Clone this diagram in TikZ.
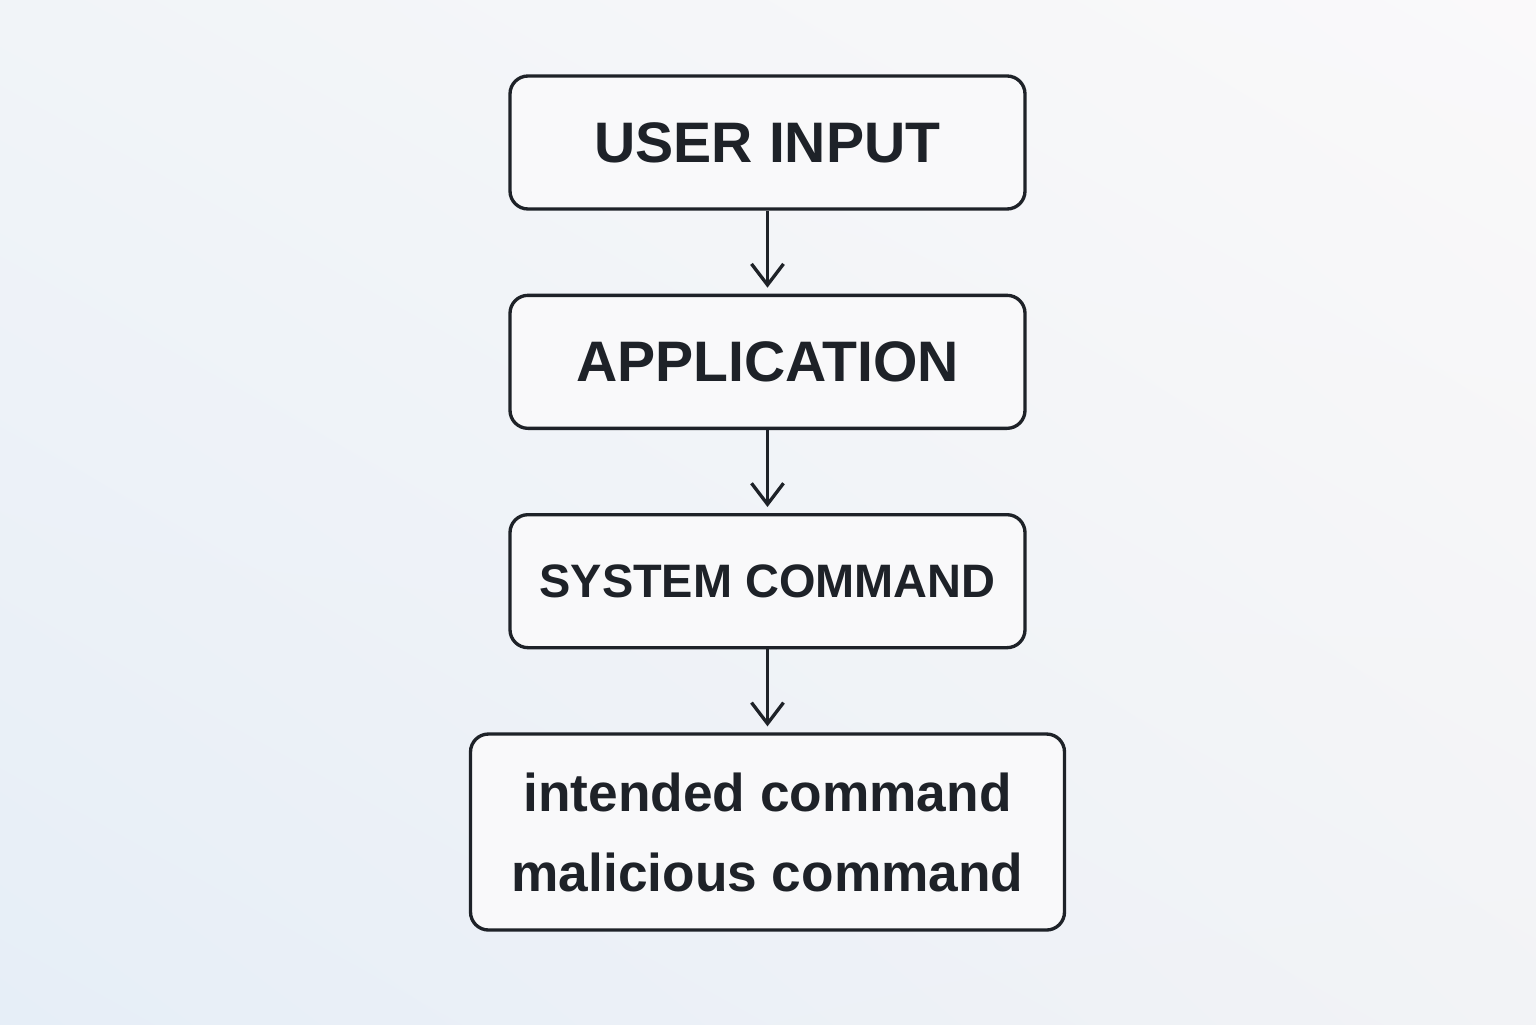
\documentclass[tikz,border=0pt]{standalone}
\usepackage{fontspec}
\setmainfont{Liberation Sans}
\usetikzlibrary{positioning,arrows.meta,shadings}

\definecolor{ink}{HTML}{1E2228}
\definecolor{boxfill}{HTML}{F9F9FA}
\definecolor{bgtl}{HTML}{F1F4F8}
\definecolor{bgtr}{HTML}{FAF9FA}
\definecolor{bgbl}{HTML}{E6EEF7}
\definecolor{bgbr}{HTML}{F2F3F6}

\begin{document}
\begin{tikzpicture}[node distance=1.66cm, auto]

\tikzstyle{every node}=[text=ink]
\tikzstyle{box} = [rectangle, draw=ink, fill=boxfill, line width=1.9pt, text centered, rounded corners=0.36cm, inner sep=0pt, minimum height=2.66cm, minimum width=10.3cm]
\tikzstyle{big} = [font=\bfseries\fontsize{32.5}{39}\selectfont]
\tikzstyle{mid} = [font=\bfseries\fontsize{26.7}{32}\selectfont]
\tikzstyle{flow} = [draw=ink, line width=1.9pt, -{Straight Barb[length=0.42cm, width=0.64cm]}, shorten >=0.12cm]

% Background
\shade[upper left=bgtl, upper right=bgtr, lower left=bgbl, lower right=bgbr] (0,0) rectangle (30.72,20.48);
\useasboundingbox (0,0) rectangle (30.72,20.48);

% Nodes
\node[box, big] (userinput) at (15.35,17.63) {USER INPUT};
\node[box, big, below=of userinput] (application) {APPLICATION};
\node[box, mid, below=of application] (syscommand) {SYSTEM COMMAND};
\node[box, align=center, minimum width=11.88cm, minimum height=3.92cm, font=\bfseries\fontsize{30.3}{45.5}\selectfont, below=of syscommand] (commands) {intended command\\malicious command};

% Lines
\draw[flow] (userinput) -- (application);
\draw[flow] (application) -- (syscommand);
\draw[flow] (syscommand) -- (commands);

\end{tikzpicture}
\end{document}
